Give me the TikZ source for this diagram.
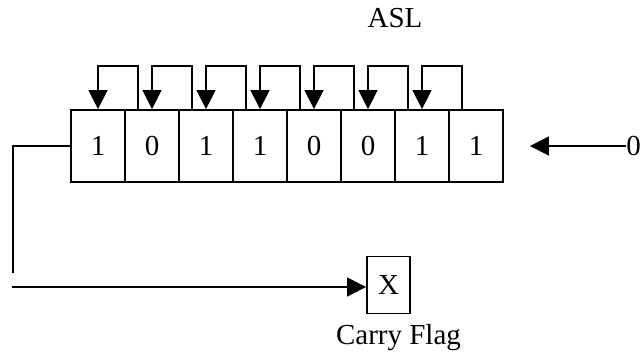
\documentclass[tikz,border=0pt]{standalone}
\usepackage{fontspec}
\setmainfont{Liberation Serif}
\usetikzlibrary{arrows.meta, positioning}

\begin{document}
\begin{tikzpicture}[x=1pt, y=-1pt, >={Triangle[length=19pt, width=19pt]},
    font=\fontsize{29pt}{34pt}\selectfont,
    bitcell/.style={draw, line width=1.8pt, minimum width=54pt,
                    minimum height=72pt, inner sep=0pt},
    flagbox/.style={draw, line width=1.8pt, minimum width=43pt,
                    minimum height=57pt, inner sep=0pt},
    wire/.style={line width=1.5pt}]
  \useasboundingbox (0,0) rectangle (642,353);

  % register bits
  \foreach \bit [count=\i from 0] in {1,0,1,1,0,0,1,1}
    \node[bitcell] (b\i) at (98+54*\i, 146) {\bit};

  % shift loops between neighbouring bits
  \foreach \i in {0,...,6}{
    \pgfmathtruncatemacro{\j}{\i+1}
    \draw[wire, ->] ([xshift=14pt]b\j.north west) -- ++(0,43pt) -| (b\i.north);
  }

  \node (title) at (395, 18) {ASL};

  % zero shifted in from the right
  \node[anchor=east, inner sep=0pt] (zero) at (641, 146) {0};
  \draw[wire, ->, shorten >=26pt] (zero.west) -- (b7.east);

  % carry out of the top bit
  \node[flagbox] (carry) at (388.5, 285) {X};
  \node[below=6pt of carry, xshift=10pt] (carrylbl) {Carry Flag};
  \coordinate (down) at (13, 273);
  \coordinate (start) at (12, 287);
  \draw[wire] (b0.west) -| (down);
  \draw[wire, ->] (start) -- (start -| carry.west);
\end{tikzpicture}
\end{document}
